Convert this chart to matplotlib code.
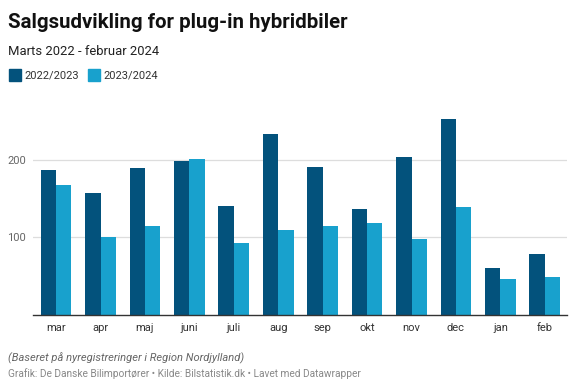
import matplotlib
matplotlib.use("Agg")
import matplotlib.pyplot as plt
import numpy as np

months = ["mar", "apr", "maj", "juni", "juli", "aug", "sep", "okt", "nov", "dec", "jan", "feb"]
series_names = ["2022/2023", "2023/2024"]
values_2022_2023 = [187, 157, 189, 199, 140, 234, 191, 136, 204, 253, 60, 78]
values_2023_2024 = [168, 100, 115, 201, 92, 109, 115, 118, 98, 139, 46, 49]
yticks = [100, 200]

title = "Salgsudvikling for plug-in hybridbiler"
subtitle = "Marts 2022 - februar 2024"
note = "(Baseret på nyregistreringer i Region Nordjylland)"
source = "Grafik: De Danske Bilimportører • Kilde: Bilstatistik.dk • Lavet med Datawrapper"

dark = "#03527c"
light = "#18a1cd"

plt.rcParams['font.family'] = ['Roboto', 'DejaVu Sans']

W, H = 576, 390
fig = plt.figure(figsize=(W / 100, H / 100), dpi=100)

def fx(px):
    return px / W

def fy(py):
    return 1 - py / H

ax_left, ax_right, ax_bottom, ax_top = 33, 567, 314.5, 110
ax = fig.add_axes([fx(ax_left), fy(ax_bottom), fx(ax_right - ax_left), (ax_bottom - ax_top) / H])

x = np.arange(len(months))
bw = 0.345
ax.bar(x - bw / 2, values_2022_2023, width=bw, color=dark, zorder=3, linewidth=0)
ax.bar(x + bw / 2, values_2023_2024, width=bw, color=light, zorder=3, linewidth=0)

ax.set_xlim(-0.52, 11.5)
ax.set_ylim(0, (ax_bottom - ax_top) / 0.7725)
ax.set_yticks(yticks)
ax.set_yticklabels([str(v) for v in yticks], color="#666666", fontsize=8)
ax.set_xticks(x)
ax.set_xticklabels(months, color="#333333", fontsize=8)
ax.tick_params(axis='both', length=0)
ax.tick_params(axis='y', pad=5)
ax.tick_params(axis='x', pad=6)
ax.grid(axis='y', color="#dddddd", linewidth=0.9, zorder=0)
for s in ["top", "right", "left"]:
    ax.spines[s].set_visible(False)
ax.spines["bottom"].set_color("#333333")
ax.spines["bottom"].set_linewidth(1.0)
ax.spines["bottom"].set_zorder(4)

fig.text(fx(8), fy(27.5), title, fontsize=14.7, fontweight='bold', color="#111111", va='baseline', ha='left')
fig.text(fx(8), fy(55), subtitle, fontsize=9.4, color="#222222", va='baseline', ha='left')

# legend
for i, (name, col, sx) in enumerate(zip(series_names, [dark, light], [9, 88])):
    fig.patches.append(matplotlib.patches.Rectangle((fx(sx), fy(81)), fx(12), 12 / H, transform=fig.transFigure, color=col, figure=fig))
    fig.text(fx(sx + 15), fy(78.5), name, fontsize=8.0, color="#333333", va='baseline', ha='left')

fig.text(fx(8), fy(361), note, fontsize=8.0, style='italic', color="#666666", va='baseline', ha='left')
fig.text(fx(8), fy(377), source, fontsize=7.3, color="#888888", va='baseline', ha='left')

fig.savefig("out.png", dpi=100)
